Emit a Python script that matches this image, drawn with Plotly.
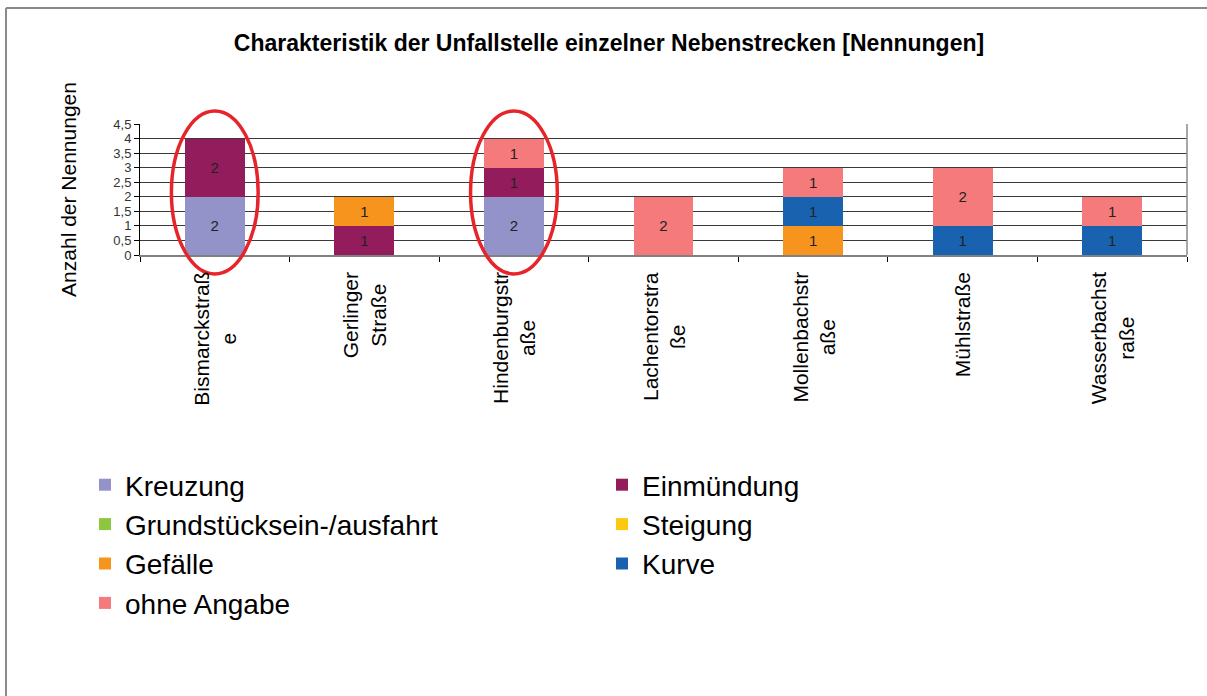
import plotly.graph_objects as go

# ---------------- data ----------------
categories = ["Bismarckstraße", "Gerlinger Straße", "Hindenburgstraße", "Lachentorstraße",
              "Mollenbachstraße", "Mühlstraße", "Wasserbachstraße"]
category_labels = ["Bismarckstraß<br>e", "Gerlinger<br>Straße", "Hindenburgstr<br>aße",
                   "Lachentorstra<br>ße", "Mollenbachstr<br>aße", "Mühlstraße",
                   "Wasserbachst<br>raße"]

kreuzung = [2, 0, 2, 0, 0, 0, 0]
einmuendung = [2, 1, 1, 0, 0, 0, 0]
grundstueck = [0, 0, 0, 0, 0, 0, 0]
steigung = [0, 0, 0, 0, 0, 0, 0]
gefaelle = [0, 1, 0, 0, 1, 0, 0]
kurve = [0, 0, 0, 0, 1, 1, 1]
ohne_angabe = [0, 0, 1, 2, 1, 2, 1]

series_names = ["Kreuzung", "Einmündung", "Grundstücksein-/ausfahrt", "Steigung",
                "Gefälle", "Kurve", "ohne Angabe"]
series_values = [kreuzung, einmuendung, grundstueck, steigung, gefaelle, kurve, ohne_angabe]
series_colors = ["#9393C9", "#931D5C", "#8DC63F", "#FDC80F", "#F7941D", "#1862AF", "#F47A7C"]

highlighted = ["Bismarckstraße", "Hindenburgstraße"]

title_text = "Charakteristik der Unfallstelle einzelner Nebenstrecken [Nennungen]"
y_title = "Anzahl der Nennungen"
y_max = 4.5

# ---------------- layout geometry ----------------
W, H = 1207, 696
ML, MR, MT, MB = 140, 20, 124, 441
PW, PH = W - ML - MR, H - MT - MB
FONT = "Liberation Sans, Arial, sans-serif"


def px_x(px):
    return (px - ML) / PW


def px_y(py):
    return (H - MB - py) / PH


fig = go.Figure()
for name, vals, col in zip(series_names, series_values, series_colors):
    fig.add_trace(go.Bar(
        x=categories, y=vals, name=name,
        marker=dict(color=col, line=dict(width=0)),
        text=[str(v) if v else "" for v in vals],
        textposition="inside", insidetextanchor="middle", textangle=0,
        textfont=dict(family=FONT, size=15, color="#222222"),
        constraintext="none",
    ))

shapes = []
n = len(categories)
for cat in highlighted:
    i = categories.index(cat)
    shapes.append(dict(type="circle", xref="paper", yref="paper",
                       x0=(i + 0.5 - 0.29) / n, x1=(i + 0.5 + 0.29) / n,
                       y0=-0.65 / y_max, y1=4.95 / y_max,
                       line=dict(color="#E8242B", width=3.5), layer="above"))
# right border of plot area
shapes.append(dict(type="line", xref="paper", yref="paper", x0=1, x1=1, y0=0, y1=1,
                   line=dict(color="#8a8a8a", width=1.5)))
# outer frame (top + left)
shapes.append(dict(type="line", xref="paper", yref="paper",
                   x0=px_x(6), x1=px_x(W + 5), y0=px_y(8), y1=px_y(8),
                   line=dict(color="#8a8a8a", width=2)))
shapes.append(dict(type="line", xref="paper", yref="paper",
                   x0=px_x(6), x1=px_x(6), y0=px_y(8), y1=px_y(H + 5),
                   line=dict(color="#8a8a8a", width=2)))

annotations = []
for cat, lab in zip(categories, category_labels):
    annotations.append(dict(x=cat, xref="x", y=0, yref="paper", yshift=-15,
                            text=lab, showarrow=False, textangle=-90,
                            xanchor="center", yanchor="top", align="center",
                            font=dict(family=FONT, size=21, color="#000000")))

fig.update_layout(
    width=W, height=H,
    margin=dict(l=ML, r=MR, t=MT, b=MB, autoexpand=False),
    paper_bgcolor="white", plot_bgcolor="white",
    barmode="stack", bargap=0.6,
    separators=",.",
    font=dict(family=FONT, color="#000000"),
    title=dict(text="<b>" + title_text + "</b>", x=609 / W, xref="container", xanchor="center",
               y=1 - 43 / H, yref="container", yanchor="middle",
               font=dict(family=FONT, size=23, color="#000000")),
    xaxis=dict(type="category", showticklabels=False, ticks="outside", tickson="boundaries",
               ticklen=5, tickcolor="#000000", showline=True, linecolor="#808080", linewidth=2,
               mirror=False, showgrid=False, range=[-0.5, n - 0.5]),
    yaxis=dict(range=[0, y_max], dtick=0.5, tick0=0, ticks="outside", ticklen=5,
               tickcolor="#000000", showline=True, linecolor="#000000", linewidth=1,
               showgrid=True, gridcolor="#3a3a3a", gridwidth=1,
               tickfont=dict(family=FONT, size=13, color="#333333"),
               title=dict(text=y_title, standoff=30, font=dict(family=FONT, size=21, color="#000000"))),
    legend=dict(orientation="h", traceorder="normal", x=px_x(85), xanchor="left",
                y=px_y(460), yanchor="top", entrywidth=472, entrywidthmode="pixels",
                font=dict(family=FONT, size=28, color="#000000"), bgcolor="rgba(0,0,0,0)"),
    shapes=shapes, annotations=annotations,
)

fig.write_html("out.html", config={"displayModeBar": False},
               post_script="document.body.style.margin='0';")
